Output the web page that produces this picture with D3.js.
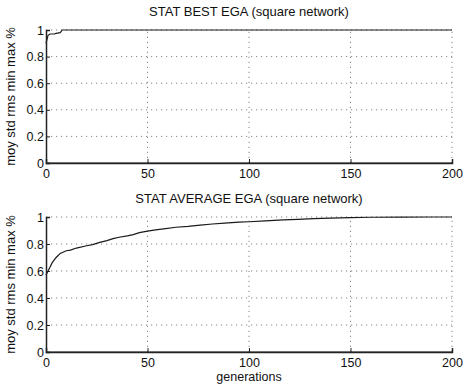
<!DOCTYPE html>
<html>
<head>
<meta charset="utf-8">
<script src="https://cdn.jsdelivr.net/npm/d3@7"></script>
<style>
  body { margin: 0; background: #fff; }
  text { font-family: "Liberation Sans", Arial, sans-serif; fill: #111; }
</style>
</head>
<body>
<svg width="465" height="387"></svg>
<script>
// values
var xTicks = [0, 50, 100, 150, 200];
var yTicks = [0, 0.2, 0.4, 0.6, 0.8, 1];

var bestGen = [0, 1, 2, 4, 5, 7, 8, 200];
var bestVals = [0.9, 0.96, 0.97, 0.97, 0.975, 0.98, 1, 1];

var avgGen = [0, 1, 2, 3, 4, 5, 7, 10, 12, 15, 20, 23, 26, 30, 33, 36, 40, 43, 46, 50, 54, 58, 64, 70, 76, 82, 88, 95, 100, 108, 117, 124, 132, 140, 150, 160, 175, 190, 200];
var avgVals = [0.57, 0.6, 0.63, 0.66, 0.68, 0.7, 0.73, 0.75, 0.755, 0.77, 0.787, 0.795, 0.81, 0.825, 0.84, 0.85, 0.86, 0.87, 0.884, 0.895, 0.905, 0.912, 0.924, 0.93, 0.94, 0.948, 0.955, 0.962, 0.965, 0.972, 0.978, 0.983, 0.988, 0.992, 0.996, 0.998, 0.999, 1, 1];

var zeroGen = [0, 200];
var zeroVals = [0, 0];

var svg = d3.select("svg");

function panel(top, bottom, title, series, xlabel) {
  var x = d3.scaleLinear().domain([0, 200]).range([46, 452]);
  var y = d3.scaleLinear().domain([0, 1]).range([bottom, top]);
  var g = svg.append("g");

  // dotted grid
  g.selectAll(".gy").data(yTicks.slice(1)).enter().append("line")
    .attr("x1", x(0)).attr("x2", x(200))
    .attr("y1", d => y(d)).attr("y2", d => y(d))
    .attr("stroke", "#666").attr("stroke-width", 0.8)
    .attr("stroke-dasharray", "1.2,3.8");
  g.selectAll(".gx").data(xTicks.slice(1)).enter().append("line")
    .attr("x1", d => x(d)).attr("x2", d => x(d))
    .attr("y1", y(0)).attr("y2", y(1))
    .attr("stroke", "#666").attr("stroke-width", 0.8)
    .attr("stroke-dasharray", "1.2,3.8");

  var line = d3.line().x(d => x(d[0])).y(d => y(d[1]));
  series.forEach(function(s) {
    g.append("path")
      .datum(d3.zip(s[0], s[1]))
      .attr("fill", "none")
      .attr("stroke", "#1a1a1a")
      .attr("stroke-width", 1.2)
      .attr("d", line);
  });

  // axes, ticks inside like matlab
  var ax = g.append("g").attr("transform", `translate(0,${bottom})`)
    .call(d3.axisBottom(x).tickValues(xTicks).tickSize(-4).tickPadding(6).tickFormat(d3.format("d")));
  var ay = g.append("g").attr("transform", `translate(${x(0)},0)`)
    .call(d3.axisLeft(y).tickValues(yTicks).tickSize(-4).tickPadding(2).tickFormat(d => d == 0 || d == 1 ? d : d3.format(".1f")(d)));
  [ax, ay].forEach(function(a) {
    a.select(".domain").attr("stroke", "#222").attr("stroke-width", 1.5);
    a.selectAll(".tick line").attr("stroke", "#222");
    a.selectAll("text").style("font-size", "12.5px").attr("fill", "#111");
  });

  g.append("text")
    .attr("x", 249).attr("y", top - 14)
    .attr("text-anchor", "middle")
    .style("font-size", "13px")
    .text(title);

  g.append("text")
    .attr("transform", `translate(15,${(top + bottom) / 2}) rotate(-90)`)
    .attr("text-anchor", "middle")
    .style("font-size", "13px")
    .text("moy std rms min max %");

  if (xlabel) {
    g.append("text")
      .attr("x", 249).attr("y", bottom + 29)
      .attr("text-anchor", "middle")
      .style("font-size", "12.5px")
      .text(xlabel);
  }
}

panel(30, 163, "STAT BEST EGA (square network)", [[bestGen, bestVals], [zeroGen, zeroVals]]);
panel(217, 352, "STAT AVERAGE EGA (square network)", [[avgGen, avgVals], [zeroGen, zeroVals]], "generations");
</script>
</body>
</html>
